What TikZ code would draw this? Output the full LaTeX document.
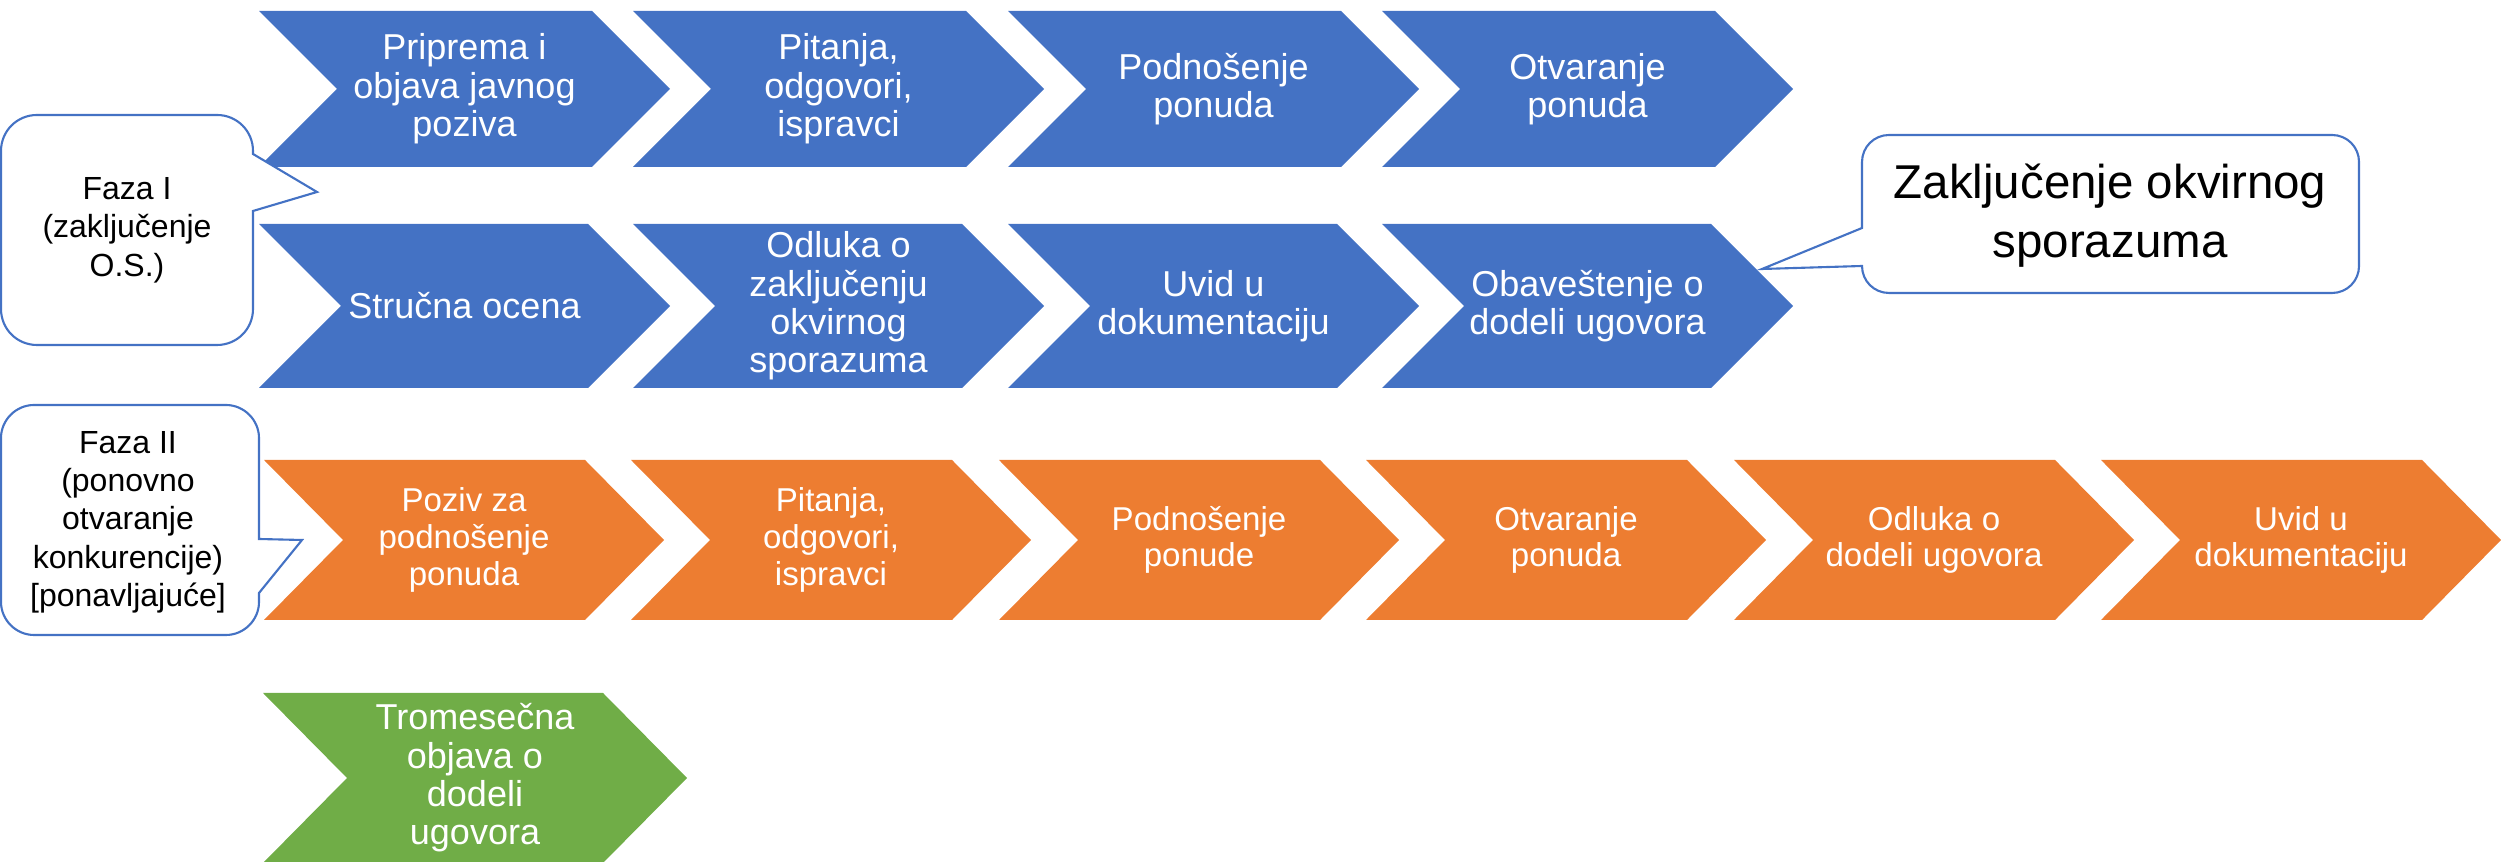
\documentclass[tikz,border=0pt]{standalone}
\usepackage{fontspec}
\setmainfont{Liberation Sans}
\definecolor{cblue}{HTML}{4472C4}
\definecolor{corange}{HTML}{ED7D31}
\definecolor{cgreen}{HTML}{70AD47}
\newcommand{\chevshape}[7]{%
  \fill[#7] (#2,#3) -- ({#2+#4-#6},#3) -- ({#2+#4},{#3+#5/2}) -- ({#2+#4-#6},{#3+#5}) -- (#2,{#3+#5}) -- ({#2+#6},{#3+#5/2}) -- cycle;
  \coordinate (#1) at ({#2+#4/2},{#3+#5/2});}
\tikzset{
  chevtext/.style={text=white, align=center, inner sep=0pt, font=\fontsize{10.24pt}{10.9pt}\selectfont},
  orangetext/.style={text=white, align=center, inner sep=0pt, font=\fontsize{9.4pt}{10.4pt}\selectfont},
  calloutshape/.style={draw=cblue, fill=white, line width=0.6pt, line join=miter},
  callouttext/.style={text=black, align=center, inner sep=0pt, font=\fontsize{9.1pt}{10.9pt}\selectfont},
  bigtext/.style={text=black, align=center, inner sep=0pt, font=\fontsize{13.5pt}{16.8pt}\selectfont}
}
\begin{document}
\begin{tikzpicture}[x=0.01cm, y=-0.01cm]
\useasboundingbox (0,0) rectangle (2501,862);
% blue row 1
\chevshape{b1}{259}{11}{411}{156}{78}{cblue}
\chevshape{b2}{633}{11}{411}{156}{78}{cblue}
\chevshape{b3}{1008}{11}{411}{156}{78}{cblue}
\chevshape{b4}{1382}{11}{411}{156}{78}{cblue}
\node[chevtext] (b1t) at (b1) {Priprema i\\objava javnog\\poziva};
\node[chevtext] (b2t) at (b2) {Pitanja,\\odgovori,\\ispravci};
\node[chevtext] (b3t) at (b3) {Podnošenje\\ponuda};
\node[chevtext] (b4t) at (b4) {Otvaranje\\ponuda};
% blue row 2
\chevshape{c1}{259}{224}{411}{164}{82}{cblue}
\chevshape{c2}{633}{224}{411}{164}{82}{cblue}
\chevshape{c3}{1008}{224}{411}{164}{82}{cblue}
\chevshape{c4}{1382}{224}{411}{164}{82}{cblue}
\node[chevtext] (c1t) at (c1) {Stručna ocena};
\node[chevtext] (c2t) at (c2) {Odluka o\\zaključenju\\okvirnog\\sporazuma};
\node[chevtext] (c3t) at (c3) {Uvid u\\dokumentaciju};
\node[chevtext] (c4t) at (c4) {Obaveštenje o\\dodeli ugovora};
% orange row
\chevshape{o1}{264}{460}{400}{160}{79}{corange}
\chevshape{o2}{631}{460}{400}{160}{79}{corange}
\chevshape{o3}{999}{460}{400}{160}{79}{corange}
\chevshape{o4}{1366}{460}{400}{160}{79}{corange}
\chevshape{o5}{1734}{460}{400}{160}{79}{corange}
\chevshape{o6}{2101}{460}{400}{160}{79}{corange}
\node[orangetext] (o1t) at (o1) {Poziv za\\podnošenje\\ponuda};
\node[orangetext] (o2t) at (o2) {Pitanja,\\odgovori,\\ispravci};
\node[orangetext] (o3t) at (o3) {Podnošenje\\ponude};
\node[orangetext] (o4t) at (o4) {Otvaranje\\ponuda};
\node[orangetext] (o5t) at (o5) {Odluka o\\dodeli ugovora};
\node[orangetext] (o6t) at (o6) {Uvid u\\dokumentaciju};
% green
\chevshape{g1}{263}{693}{424}{170}{84}{cgreen}
\node[chevtext] (g1t) at (g1) {Tromesečna\\objava o\\dodeli\\ugovora};
% callout Faza I
\draw[calloutshape] (37,115) -- (217,115) .. controls (237,115) and (253,131) .. (253,151)
  -- (253,154) -- (317,192) -- (253,211) -- (253,309)
  .. controls (253,329) and (237,345) .. (217,345) -- (37,345)
  .. controls (17,345) and (1,329) .. (1,309) -- (1,151)
  .. controls (1,131) and (17,115) .. (37,115) -- cycle;
\node[callouttext] (f1) at (127,230) {Faza I\\(zaključenje\\O.S.)};
% callout Faza II
\draw[calloutshape] (34,405) -- (226,405) .. controls (244,405) and (259,420) .. (259,438)
  -- (259,539) -- (302,540) -- (259,593) -- (259,602)
  .. controls (259,620) and (244,635) .. (226,635) -- (34,635)
  .. controls (16,635) and (1,620) .. (1,602) -- (1,438)
  .. controls (1,420) and (16,405) .. (34,405) -- cycle;
\node[callouttext] (f2) at (128,522) {Faza II\\(ponovno\\otvaranje\\konkurencije)\\{[}ponavljajuće{]}};
% callout Zakljucenje
\draw[calloutshape] (1889,135) -- (2332,135) .. controls (2347,135) and (2359,147) .. (2359,162)
  -- (2359,266) .. controls (2359,281) and (2347,293) .. (2332,293) -- (1889,293)
  .. controls (1874,293) and (1862,281) .. (1862,266) -- (1762,269) -- (1862,228)
  -- (1862,162) .. controls (1862,147) and (1874,135) .. (1889,135) -- cycle;
\node[bigtext] (z) at (2110,216) {Zaključenje okvirnog\\sporazuma};
\end{tikzpicture}
\end{document}
